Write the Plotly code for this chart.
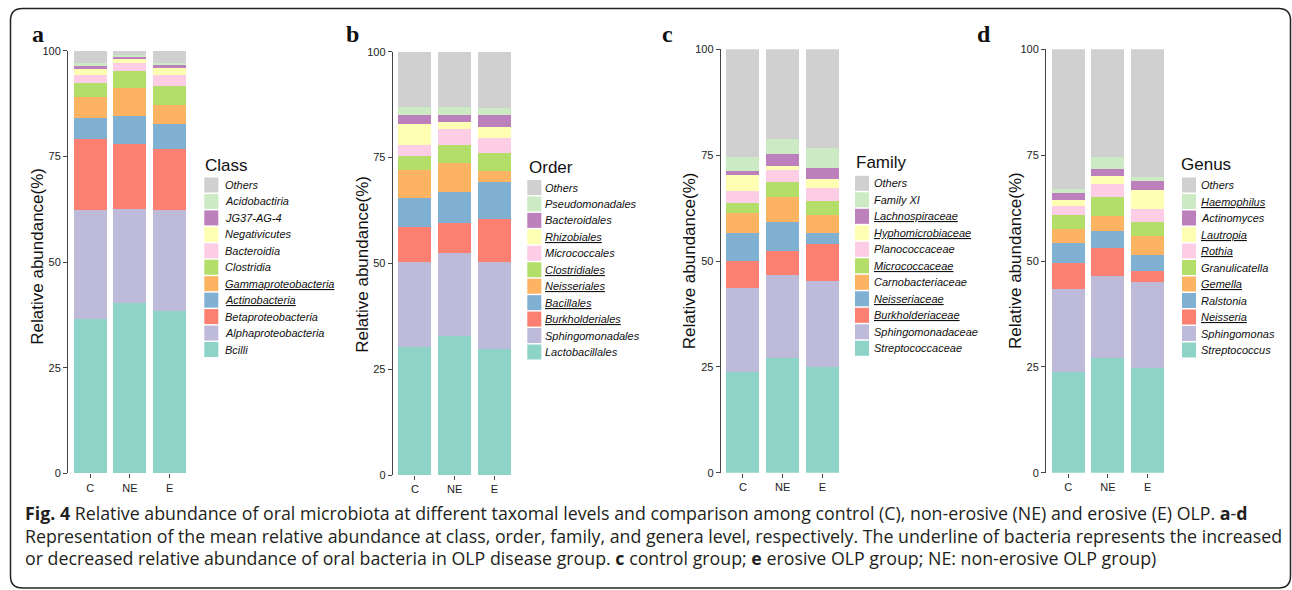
import plotly.graph_objects as go

W, H = 1292, 590

groups = ["C", "NE", "E"]

# ---------------- data (percent, stacked bottom -> top) ----------------
class_taxa = ["Bcilli", "Alphaproteobacteria", "Betaproteobacteria", "Actinobacteria",
              "Gammaproteobacteria", "Clostridia", "Bacteroidia", "Negativicutes",
              "JG37-AG-4", "Acidobactiria", "Others"]
class_C = [36.4, 25.9, 16.7, 5.0, 5.0, 3.3, 1.9, 1.4, 0.8, 0.6, 3.0]
class_NE = [40.4, 22.1, 15.4, 6.6, 6.6, 4.2, 1.7, 1.0, 0.6, 0.5, 0.9]
class_E = [38.4, 23.9, 14.4, 6.0, 4.4, 4.5, 2.6, 1.6, 0.8, 0.5, 2.9]
class_underlined = ["Gammaproteobacteria", "Actinobacteria"]

order_taxa = ["Lactobacillales", "Sphingomonadales", "Burkholderiales", "Bacillales",
              "Neisseriales", "Clostridiales", "Micrococcales", "Rhizobiales",
              "Bacteroidales", "Pseudomonadales", "Others"]
order_C = [30.3, 20.0, 8.4, 6.8, 6.5, 3.4, 2.6, 5.0, 2.0, 1.9, 13.1]
order_NE = [32.8, 19.6, 7.2, 7.3, 6.7, 4.3, 3.8, 1.7, 1.6, 1.9, 13.1]
order_E = [29.8, 20.5, 10.2, 8.7, 2.5, 4.4, 3.6, 2.6, 2.7, 1.7, 13.3]
order_underlined = ["Rhizobiales", "Clostridiales", "Neisseriales", "Bacillales", "Burkholderiales"]

family_taxa = ["Streptococcaceae", "Sphingomonadaceae", "Burkholderiaceae", "Neisseriaceae",
               "Carnobacteriaceae", "Micrococcaceae", "Planococcaceae", "Hyphomicrobiaceae",
               "Lachnospiraceae", "Family XI", "Others"]
family_C = [23.9, 19.7, 6.3, 6.6, 4.8, 2.5, 2.7, 3.7, 1.1, 3.3, 25.4]
family_NE = [27.2, 19.5, 5.7, 6.9, 5.7, 3.6, 2.8, 1.1, 2.7, 3.7, 21.1]
family_E = [24.9, 20.4, 8.6, 2.6, 4.4, 3.3, 3.1, 2.1, 2.6, 4.6, 23.4]
family_underlined = ["Lachnospiraceae", "Hyphomicrobiaceae", "Micrococcaceae",
                     "Neisseriaceae", "Burkholderiaceae"]

genus_taxa = ["Streptococcus", "Sphingomonas", "Neisseria", "Ralstonia", "Gemella",
              "Granulicatella", "Rothia", "Lautropia", "Actinomyces", "Haemophilus", "Others"]
genus_C = [23.9, 19.6, 6.1, 4.7, 3.2, 3.4, 2.2, 1.3, 1.6, 1.1, 32.9]
genus_NE = [27.2, 19.3, 6.6, 3.9, 3.6, 4.4, 3.3, 1.7, 1.8, 2.8, 25.4]
genus_E = [24.8, 20.3, 2.5, 3.8, 4.6, 3.3, 3.1, 4.4, 2.1, 0.9, 30.2]
genus_underlined = ["Haemophilus", "Lautropia", "Rothia", "Gemella", "Neisseria"]

legend_titles = ["Class", "Order", "Family", "Genus"]
panel_letters = ["a", "b", "c", "d"]
y_ticks = [0, 25, 50, 75, 100]

colors = ["#8DD3C7", "#BEBADA", "#FB8072", "#80B1D3", "#FDB462", "#B3DE69",
          "#FCCDE5", "#FFFFB3", "#BC80BD", "#CCEBC5", "#D0D0D0"]

caption_lines = [
    "<b>Fig. 4</b> Relative abundance of oral microbiota at different taxomal levels and comparison among control (C), non-erosive (NE) and erosive (E) OLP. <b>a</b>-<b>d</b>",
    "Representation of the mean relative abundance at class, order, family, and genera level, respectively. The underline of bacteria represents the increased",
    "or decreased relative abundance of oral bacteria in OLP disease group. <b>c</b> control group; <b>e</b> erosive OLP group; NE: non-erosive OLP group)",
]

panels = [
    (class_taxa, class_C, class_NE, class_E, class_underlined),
    (order_taxa, order_C, order_NE, order_E, order_underlined),
    (family_taxa, family_C, family_NE, family_E, family_underlined),
    (genus_taxa, genus_C, genus_NE, genus_E, genus_underlined),
]

# ---------------- layout geometry (pixels) ----------------
# axis line x, y of 0, y of 100
geom = [(68.0, 473.3, 50.7), (392.7, 475.0, 51.7), (720.7, 472.7, 49.3), (1046.0, 472.7, 49.3)]
unit = 39.7
off = 0.56
ytitle_pos = [(36.7, 256), (361.7, 264), (689.3, 261), (1015.0, 261)]
letter_pos = [(38, 34), (352, 34), (667.5, 34), (983.5, 34)]
# legend: title left x, title center y, swatch x, first item center y, pitch, text x
leg = [(202.7, 165.7, 204.3, 185.0, 16.45, 223.3),
       (526.7, 167.3, 527.3, 187.5, 16.45, 542.7),
       (854.3, 162.7, 855.0, 183.3, 16.5, 872.3),
       (1179.3, 164.0, 1182.0, 185.0, 16.5, 1199.0)]


def px(x):
    return x / W


def py(y):
    return 1 - y / H


fig = go.Figure()
annotations = []
shapes = []
SANS = "Liberation Sans, Arial, sans-serif"

for p, (taxa, vC, vNE, vE, under) in enumerate(panels):
    k = "" if p == 0 else str(p + 1)
    for i, t in enumerate(taxa):
        fig.add_trace(go.Bar(
            x=groups, y=[vC[i], vNE[i], vE[i]], name=t,
            marker=dict(color=colors[i], line=dict(width=0)),
            width=0.83, xaxis="x" + k, yaxis="y" + k, showlegend=False,
        ))
    x0, yb, yt = geom[p]
    xd = [px(x0), px(x0 + (3 + 2 * off - 1) * unit)]
    yd = [py(yb), py(yt)]
    fig.layout["xaxis" + k] = dict(
        domain=xd, anchor="y" + k, range=[-off, 2 + off], showline=False,
        showgrid=False, zeroline=False, ticks="outside", ticklen=4, tickwidth=1,
        tickcolor="#444", tickfont=dict(family=SANS, size=11, color="#222"),
        fixedrange=True, automargin=False,
    )
    fig.layout["yaxis" + k] = dict(
        domain=yd, anchor="x" + k, range=[0, 100], showline=True, linecolor="#444",
        linewidth=1, showgrid=False, zeroline=False, ticks="outside", ticklen=4,
        tickwidth=1, tickcolor="#444", tickvals=y_ticks, ticktext=[str(v) for v in y_ticks],
        tickfont=dict(family=SANS, size=11, color="#222"), fixedrange=True,
        automargin=False,
    )
    # y-axis title
    tx, ty = ytitle_pos[p]
    annotations.append(dict(x=px(tx), y=py(ty), xref="paper", yref="paper",
                            text="Relative abundance(%)", textangle=-90, showarrow=False,
                            xanchor="center", yanchor="middle",
                            font=dict(family=SANS, size=17, color="#111")))
    # panel letter
    lx, ly = letter_pos[p]
    annotations.append(dict(x=px(lx), y=py(ly), xref="paper", yref="paper",
                            text="<b>" + panel_letters[p] + "</b>", showarrow=False,
                            xanchor="center", yanchor="middle",
                            font=dict(family="Liberation Serif, Times New Roman, serif",
                                      size=24, color="#111")))
    # legend
    ltx, lty, sx, c0, pitch, textx = leg[p]
    annotations.append(dict(x=px(ltx), y=py(lty), xref="paper", yref="paper",
                            text=legend_titles[p], showarrow=False, xanchor="left",
                            yanchor="middle", font=dict(family=SANS, size=17, color="#111")))
    n = len(taxa)
    for j in range(n):
        idx = n - 1 - j  # legend top -> bottom is reversed stack order
        cy = c0 + j * pitch
        shapes.append(dict(type="rect", xref="paper", yref="paper",
                           x0=px(sx), x1=px(sx + 14), y0=py(cy + 7.5), y1=py(cy - 7.5),
                           fillcolor=colors[idx], line=dict(width=0)))
        name = taxa[idx]
        label = "<u>" + name + "</u>" if name in under else name
        annotations.append(dict(x=px(textx), y=py(cy), xref="paper", yref="paper",
                                text=label, showarrow=False, xanchor="left", yanchor="middle",
                                font=dict(family=SANS, size=11, color="#111", style="italic")))

# caption
cap_y = [512.5, 535.5, 558]
for line, cy in zip(caption_lines, cap_y):
    annotations.append(dict(x=px(23), y=py(cy), xref="paper", yref="paper", text=line,
                            showarrow=False, xanchor="left", yanchor="middle",
                            font=dict(family="Open Sans, sans-serif", size=17.8, color="#231F20")))

# rounded frame
bx0, bx1, by0, by1, r = 10.5, 1290.5, 8.5, 588.0, 12


def P(x, y):
    return f"{px(x):.6f},{py(y):.6f}"


path = (f"M {P(bx0 + r, by0)} L {P(bx1 - r, by0)} Q {P(bx1, by0)} {P(bx1, by0 + r)} "
        f"L {P(bx1, by1 - r)} Q {P(bx1, by1)} {P(bx1 - r, by1)} "
        f"L {P(bx0 + r, by1)} Q {P(bx0, by1)} {P(bx0, by1 - r)} "
        f"L {P(bx0, by0 + r)} Q {P(bx0, by0)} {P(bx0 + r, by0)} Z")
shapes.append(dict(type="path", xref="paper", yref="paper", path=path,
                   line=dict(color="#222", width=1.5)))

fig.update_layout(
    width=W, height=H, autosize=False,
    margin=dict(l=0, r=0, t=0, b=0, autoexpand=False),
    paper_bgcolor="white", plot_bgcolor="white",
    barmode="stack", bargap=0.17,
    showlegend=False,
    annotations=annotations, shapes=shapes,
    font=dict(family=SANS),
)

fig.write_html("out.html")
